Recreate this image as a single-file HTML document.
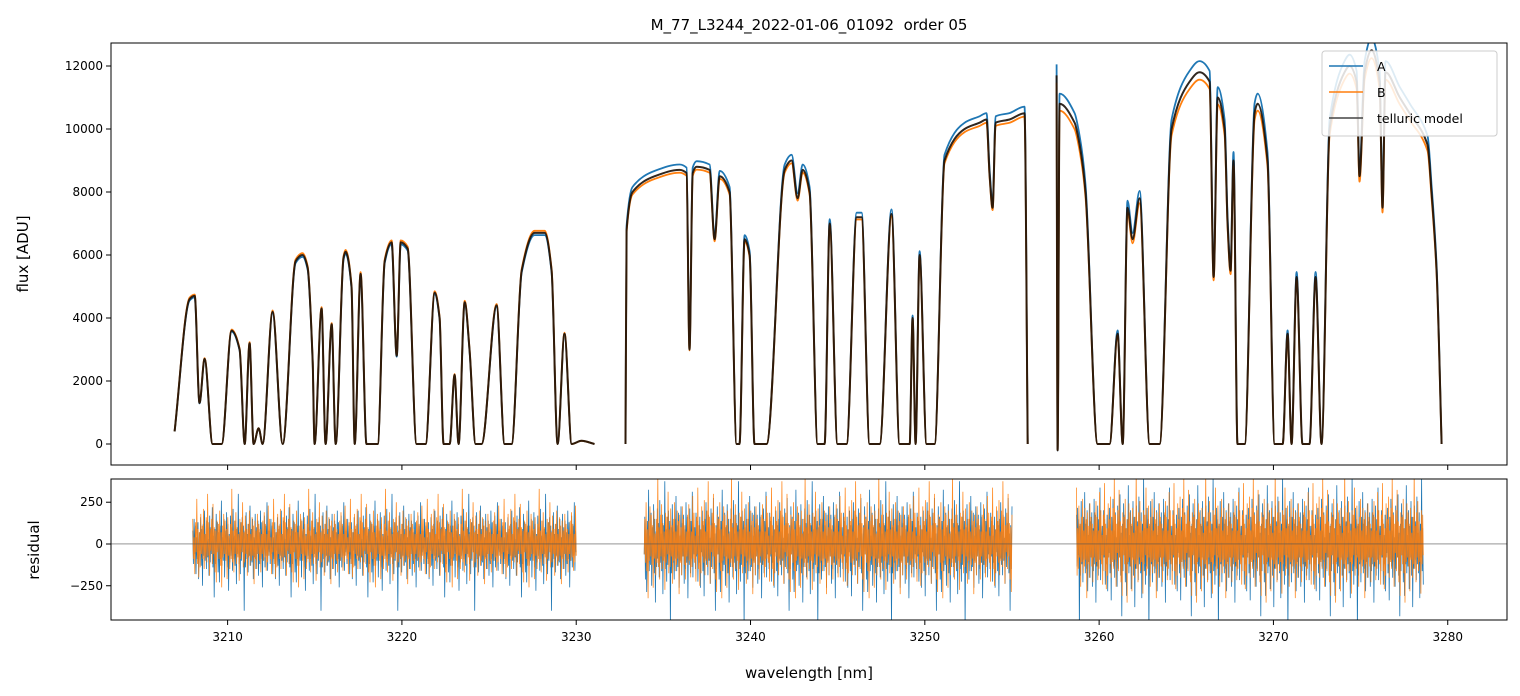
<!DOCTYPE html>
<html><head><meta charset="utf-8"><style>
body{margin:0;background:#fff;}
svg{display:block;font-family:"DejaVu Sans","Liberation Sans",sans-serif;}
</style></head><body>
<svg id="chart" width="1520" height="696" viewBox="0 0 1520 696" xmlns="http://www.w3.org/2000/svg">
<defs>
<clipPath id="clipTop"><rect x="111" y="43" width="1396" height="422"/></clipPath>
<clipPath id="clipBot"><rect x="111" y="479" width="1396" height="141"/></clipPath>
</defs>
<rect width="1520" height="696" fill="#fff"/>
<text x="809" y="30" text-anchor="middle" font-size="15">M_77_L3244_2022-01-06_01092&#160; order 05</text>
<g id="topPanel"></g>
<g id="botPanel"></g>
<text transform="translate(28,254) rotate(-90)" text-anchor="middle" font-size="15">flux [ADU]</text>
<text transform="translate(39,550) rotate(-90)" text-anchor="middle" font-size="15">residual</text>
<text x="809" y="678" text-anchor="middle" font-size="15">wavelength [nm]</text>
<g>
<rect x="1322" y="51" width="175" height="85" rx="3" fill="#fff" fill-opacity="0.85" stroke="#ccc"/>
<line x1="1329" y1="66" x2="1363" y2="66" stroke="#1f77b4" stroke-width="1.5"/>
<text x="1377" y="71" font-size="12.5">A</text>
<line x1="1329" y1="92" x2="1363" y2="92" stroke="#ff7f0e" stroke-width="1.5"/>
<text x="1377" y="97" font-size="12.5">B</text>
<line x1="1329" y1="118" x2="1363" y2="118" stroke="#444" stroke-width="1.5"/>
<text x="1377" y="123" font-size="12.5">telluric model</text>
</g>
</svg>
<script>
const segWl = [
[3206.96,3207.82,3208.11,3208.39,3208.68,3209.14,3209.66,3210.23,3210.69,3210.98,3211.26,3211.49,3211.78,3212.01,3212.58,3213.16,3213.90,3214.30,3214.59,3214.88,3214.99,3215.39,3215.62,3215.97,3216.20,3216.65,3216.77,3217.11,3217.29,3217.63,3217.97,3218.61,3219.01,3219.41,3219.70,3219.93,3220.33,3220.84,3221.36,3221.88,3222.16,3222.39,3222.74,3223.02,3223.25,3223.60,3223.88,3224.23,3224.57,3225.43,3225.89,3226.29,3226.87,3227.61,3228.19,3228.59,3228.93,3229.33,3229.74,3230.3,3231.05],
[3232.83,3232.89,3233.23,3234.50,3235.93,3236.33,3236.50,3236.68,3236.91,3237.65,3237.94,3238.23,3238.80,3239.20,3239.37,3239.66,3239.95,3240.23,3240.92,3241.96,3242.36,3242.70,3242.99,3243.39,3243.85,3244.25,3244.54,3244.99,3245.51,3246.09,3246.37,3246.83,3247.41,3248.09,3248.55,3249.13,3249.30,3249.47,3249.70,3250.10,3250.56,3251.13,3252.28,3253.14,3253.54,3253.72,3253.89,3254.06,3254.86,3255.72,3255.90],
[3257.56,3257.62,3257.73,3258.59,3258.88,3259.22,3259.91,3260.60,3261.06,3261.35,3261.63,3261.92,3262.32,3262.90,3263.47,3264.16,3265.19,3265.76,3266.34,3266.57,3266.80,3267.20,3267.37,3267.54,3267.71,3267.94,3268.35,3268.92,3269.09,3269.66,3270.07,3270.53,3270.81,3271.04,3271.33,3271.67,3272.07,3272.42,3272.76,3273.22,3274.08,3274.37,3274.77,3274.94,3275.23,3275.63,3276.09,3276.26,3276.43,3277.25,3277.81,3278.84,3279.07,3279.36,3279.65]
];
const segFlux = [
[400,4600,4700,1300,2700,0,0,3600,3000,0,3200,0,500,0,4200,0,5800,6000,5600,2600,0,4300,0,3800,0,5900,6100,5000,0,5400,0,0,5800,6400,2800,6400,6200,0,0,4800,4000,0,0,2200,0,4500,3000,0,0,4400,0,0,5500,6700,6700,5500,0,3500,0,100,0],
[0,6800,8000,8500,8700,8600,3000,8600,8800,8700,6500,8500,8000,0,0,6500,6000,0,0,8700,9000,7800,8700,8000,0,0,7000,0,0,7200,7200,0,0,7300,0,0,4000,0,6000,0,0,9000,10000,10200,10300,8500,7500,10200,10300,10500,0],
[11700,-200,10800,10200,9500,8000,0,0,3500,0,7500,6500,7800,0,0,10000,11500,11800,11500,5300,11000,10000,7000,5500,9000,0,0,10500,10800,9000,0,0,3500,0,5300,0,0,5300,0,10000,11800,12000,11500,8500,11800,12500,11500,7500,11800,11000,10500,9500,8000,5500,0]
];
const gainA = [0.99,1.02,1.03];
const gainB = [1.01,0.99,0.98];
const resRange = [[3208.0,3230.0],[3233.9,3255.0],[3258.7,3278.6]];
const resAmp = [1.0,1.25,1.35];
const resA = [80,-120,150,-60,110,-180,40,-90,130,-210,70,-40,160,-130,90,-250,120,-70,200,-100,60,-150,140,-80,30,-190,170,-110,100,-60,220,-140,50,-320,90,-120,180,-50,130,-170,70,-230,110,-90,260,-130,40,-100,150,-200,80,-60,190,-140,120,-280,60,-110,170,-70,100,-160,210,-90,50,-130,140,-240,90,-60,300,-120,70,-180,130,-100,160,-50,110,-400,80,-140,190,-90,60,-170,120,-70,230,-130,90,-110,150,-210,40,-80,180,-150,100,-60,140,-190,70,-120,200,-90,130,-260,60,-100,170,-140,110,-70,250,-160,80,-50];
const resB = [-60,140,-100,190,-80,120,-160,60,-110,230,-70,150,-90,40,-180,130,-50,270,-120,90,-200,70,-140,180,-60,110,-90,210,-150,60,-80,160,-110,300,-70,130,-190,90,-40,150,-120,240,-60,100,-170,80,-230,140,-50,120,-90,200,-130,70,-260,110,-80,180,-60,140,-100,90,-210,160,-70,50,-150,120,-90,330,-110,80,-170,140,-60,190,-120,100,-80,60,-220,150,-90,130,-50,250,-140,70,-110,170,-60,90,-190,120,-80,200,-130,60,-100,160,-70,110,-240,140,-90,80,-150,180,-60,120,-100,90,-170,60];
const xTicks = [3210,3220,3230,3240,3250,3260,3270,3280];
const yTicksTop = [0,2000,4000,6000,8000,10000,12000];
const yTicksBot = [-250,0,250];

const NS="http://www.w3.org/2000/svg";
const X0=111,X1=1507,WL0=3203.31,WL1=3283.40;
const xs=w=>X0+(w-WL0)/(WL1-WL0)*(X1-X0);
const ysT=v=>465-(v-(-667))/(12730-(-667))*422;
const ysB=v=>620-(v-(-455))/(389-(-455))*141;
function mk(tag,attrs,parent){const e=document.createElementNS(NS,tag);for(const k in attrs)e.setAttribute(k,attrs[k]);parent.appendChild(e);return e;}
const topG=document.getElementById('topPanel'),botG=document.getElementById('botPanel');
const gT=mk('g',{'clip-path':'url(#clipTop)'},topG);
const gB=mk('g',{'clip-path':'url(#clipBot)'},botG);

// monotone cubic path through points
function monoPath(P){
  const n=P.length;const m=new Array(n).fill(0);const d=[];
  for(let i=0;i<n-1;i++){const dx=P[i+1][0]-P[i][0];d.push(dx>0?(P[i+1][1]-P[i][1])/dx:0);}
  for(let i=1;i<n-1;i++){ if(d[i-1]*d[i]<=0) m[i]=0; else m[i]=2/(1/d[i-1]+1/d[i]); }
  m[0]=d[0];m[n-1]=d[n-2];
  let s='M'+P[0][0].toFixed(1)+' '+P[0][1].toFixed(1);
  for(let i=0;i<n-1;i++){const h=(P[i+1][0]-P[i][0])/3;
    s+='C'+(P[i][0]+h).toFixed(1)+' '+(P[i][1]+m[i]*h).toFixed(1)+' '+(P[i+1][0]-h).toFixed(1)+' '+(P[i+1][1]-m[i+1]*h).toFixed(1)+' '+P[i+1][0].toFixed(1)+' '+P[i+1][1].toFixed(1);}
  return s;
}
function seriesPath(si,gain){return monoPath(segWl[si].map((w,i)=>[xs(w),ysT(segFlux[si][i]*gain)]));}
for(let s=0;s<3;s++){
  let p=mk('path',{d:seriesPath(s,gainA[s]),fill:'none',stroke:'#1f77b4','stroke-width':1.8,'stroke-linejoin':'round'},gT);
  
  
  p=mk('path',{d:seriesPath(s,gainB[s]),fill:'none',stroke:'#ff7f0e','stroke-width':1.8,'stroke-linejoin':'round'},gT);
  
  
}
for(let s=0;s<3;s++){
  const p=mk('path',{d:seriesPath(s,1),fill:'none',stroke:'#1a1008','stroke-opacity':0.9,'stroke-width':2,'stroke-linejoin':'round'},gT);
  
  
}
function resPath(arr,s,off){
  const [a,b]=resRange[s];const n=arr.length;let d='';
  const N=n*5;
  for(let k=0;k<N;k++){const w=a+(b-a)*k/(N-1);const v=arr[(k+off+s*37)%n]*resAmp[s];d+=(k?'L':'M')+xs(w).toFixed(1)+' '+ysB(v).toFixed(1);}
  return d;
}
for(let s=0;s<3;s++){
  let p=mk('path',{d:resPath(resA,s,0),fill:'none',stroke:'#1f77b4','stroke-width':0.8},gB);
  
  
  p=mk('path',{d:resPath(resB,s,11),fill:'none',stroke:'#ff7f0e','stroke-width':0.8,'stroke-opacity':0.9},gB);
  
  
}
let zl=mk('line',{x1:X0,x2:X1,y1:ysB(0),y2:ysB(0),stroke:'#555','stroke-width':0.6},botG);


let fr=mk('rect',{x:X0,y:43,width:X1-X0,height:422,fill:'none',stroke:'#000','stroke-width':1},topG);


fr=mk('rect',{x:X0,y:479,width:X1-X0,height:141,fill:'none',stroke:'#000','stroke-width':1},botG);


xTicks.forEach(t=>{const x=xs(t);
  mk('line',{x1:x,x2:x,y1:465,y2:470,stroke:'#000'},topG);
  mk('line',{x1:x,x2:x,y1:620,y2:625,stroke:'#000'},botG);
  const tx=mk('text',{x:x,y:641,'text-anchor':'middle','font-size':12},botG);tx.textContent=t;
  
  
});
yTicksTop.forEach(t=>{const y=ysT(t);
  mk('line',{x1:X0-5,x2:X0,y1:y,y2:y,stroke:'#000'},topG);
  const tx=mk('text',{x:X0-8,y:y+4,'text-anchor':'end','font-size':12},topG);tx.textContent=t;
  
  
});
yTicksBot.forEach(t=>{const y=ysB(t);
  mk('line',{x1:X0-5,x2:X0,y1:y,y2:y,stroke:'#000'},botG);
  const tx=mk('text',{x:X0-8,y:y+4,'text-anchor':'end','font-size':12},botG);tx.textContent=t<0?'\u2212'+(-t):t;
  
  
});
</script>
</body></html>
